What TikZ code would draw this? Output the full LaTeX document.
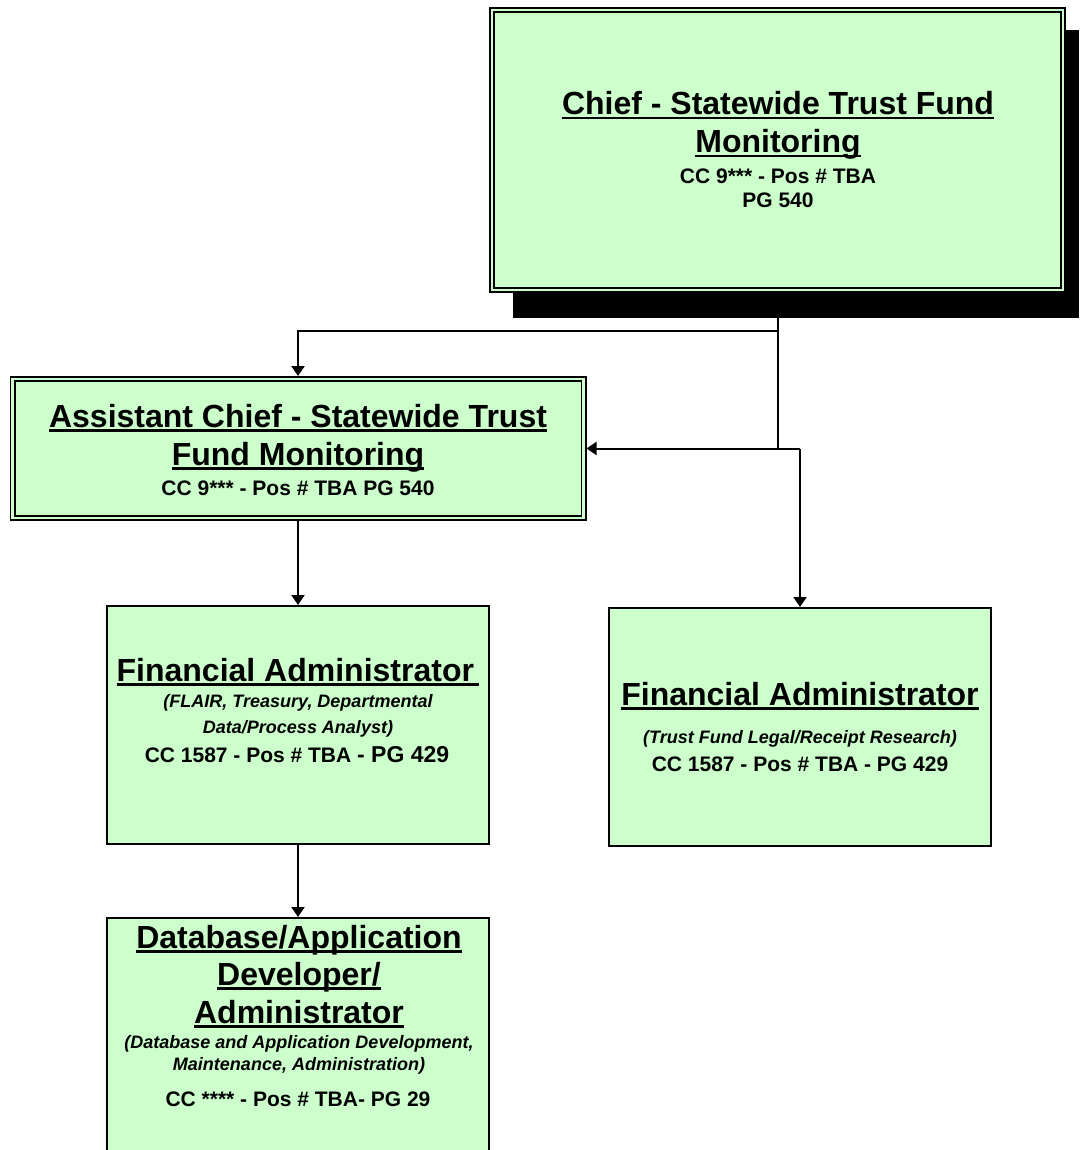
\documentclass[tikz,border=0pt]{standalone}
\usepackage{fontspec}
\setmainfont{Liberation Sans}
\usetikzlibrary{arrows.meta}
\definecolor{boxgreen}{HTML}{CCFFCC}
\newcommand\myul[1]{\setbox0\hbox{#1}\rlap{\rule[-0.13em]{\wd0}{0.08em}}\box0}
\tikzset{
 box/.style={rectangle, draw=black, fill=boxgreen, line width=2pt, inner sep=0pt, outer sep=1pt},
 dbox/.style={box, line width=1.6pt, double=boxgreen, double distance=2.8pt, outer sep=3pt},
 ttl/.style={anchor=base, font=\fontsize{32}{38}\selectfont\bfseries, inner sep=0pt},
 sub/.style={anchor=base, font=\fontsize{21}{24}\selectfont\bfseries, inner sep=0pt},
 ital/.style={anchor=base, font=\fontsize{18}{22}\selectfont\bfseries\itshape, inner sep=0pt},
 conn/.style={line width=2pt},
 arr/.style={conn, -{Triangle[width=13pt,length=10pt]}},
}
\begin{document}
\begin{tikzpicture}[x=1pt,y=-1pt]
\clip (0,0) rectangle (1079,1150);
\fill[white] (0,0) rectangle (1079,1150);
% shadow of top box
\fill[black] (513,30) rectangle (1079,318);
% boxes
\node[dbox, minimum width=571pt, minimum height=280pt] (top) at (777.5,150) {};
\node[dbox, minimum width=571pt, minimum height=139pt] (asst) at (298,448.5) {};
\node[box, minimum width=382pt, minimum height=238pt] (fa1) at (298,725) {};
\node[box, minimum width=382pt, minimum height=238pt] (fa2) at (800,727) {};
\node[box, minimum width=382pt, minimum height=252pt] (db) at (298,1044) {};
% connectors
\draw[conn] (top.south) -- (top.south |- asst.east);
\draw[arr] (top.south) -- (top.south |- 0,331) -| (asst.north);
\draw[arr] (fa2.north |- asst.east) -- (asst.east);
\draw[arr] (fa2.north |- asst.east) -- (fa2.north);
\draw[arr] (asst.south) -- (fa1.north);
\draw[arr] (fa1.south) -- (db.north);
% top text
\node[ttl] (t1) at (778,115) {\myul{Chief - Statewide Trust Fund}};
\node[ttl] (t2) at (778,153) {\myul{Monitoring}};
\node[sub] (t3) at (778,183.5) {CC 9*** - Pos \# TBA};
\node[sub] (t4) at (778,207.5) {PG 540};
% assistant text
\node[ttl] (a1) at (298,427.5) {\myul{Assistant Chief - Statewide Trust}};
\node[ttl] (a2) at (298,465.5) {\myul{Fund Monitoring}};
\node[sub] (a3) at (298,495.5) {CC 9*** - Pos \# TBA PG 540};
% FA1 text
\node[ttl] (f1) at (298,681.5) {\myul{Financial Administrator\,}};
\node[ital] (f2) at (298,707.5) {(FLAIR, Treasury, Departmental};
\node[ital] (f3) at (298,733.5) {Data/Process Analyst)};
\node[sub] (f4) at (297,762.5) {CC 1587 - Pos \# TBA {\fontsize{23}{26}\selectfont - PG 429}};
% FA2 text
\node[ttl] (g1) at (800,705.5) {\myul{Financial Administrator}};
\node[ital] (g2) at (800,743.5) {(Trust Fund Legal/Receipt Research)};
\node[sub] (g3) at (800,771.5) {CC 1587 - Pos \# TBA - PG 429};
% DB text
\node[ttl] (d1) at (299,948.5) {\myul{Database/Application}};
\node[ttl] (d2) at (299,985.5) {\myul{Developer/}};
\node[ttl] (d3) at (299,1023.5) {\myul{Administrator}};
\node[ital] (d4) at (299,1048.5) {(Database and Application Development,};
\node[ital] (d5) at (299,1070.5) {Maintenance, Administration)};
\node[sub] (d6) at (298,1106) {CC **** - Pos \# TBA- PG 29};
\end{tikzpicture}
\end{document}
